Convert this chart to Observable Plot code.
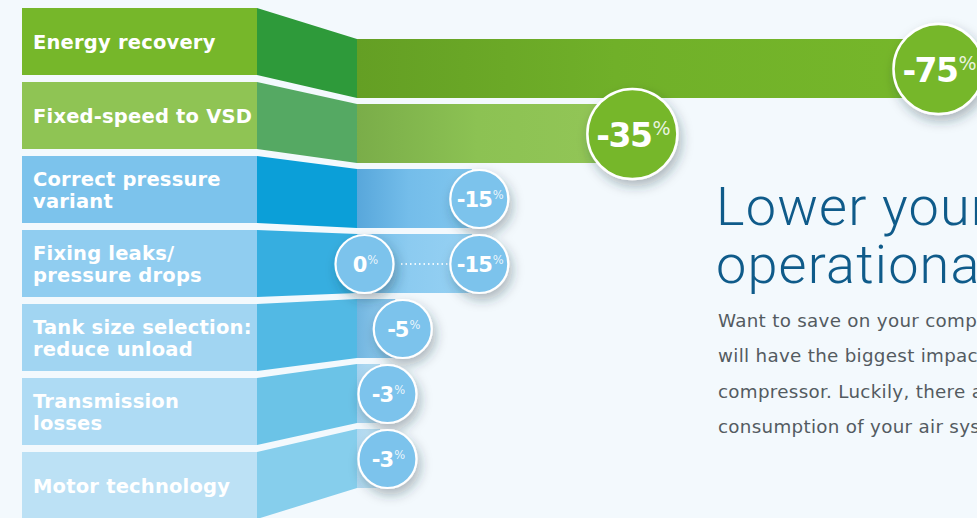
<!DOCTYPE html>
<html>
<head>
<meta charset="utf-8">
<script src="https://cdn.jsdelivr.net/npm/d3@7"></script>
<script src="https://cdn.jsdelivr.net/npm/@observablehq/plot@0.6"></script>
<style>
  html, body { margin: 0; padding: 0; background: #f3f9fd; width: 977px; height: 518px; overflow: hidden; }
  #chart { width: 977px; height: 518px; }
  #chart svg { display: block; }
</style>
</head>
<body>
<div id="chart"></div>
<script>
// ---- data ----
const categories = [
  "Energy recovery",
  "Fixed-speed to VSD",
  "Correct pressure\nvariant",
  "Fixing leaks/\npressure drops",
  "Tank size selection:\nreduce unload",
  "Transmission\nlosses",
  "Motor technology"
];
const savingFrom = [75, 35, 15, 0, 5, 3, 3];
const savingTo   = [75, 35, 15, 15, 5, 3, 3];

const headingLines = ["Lower your", "operational costs"];
const bodyLines = [
  "Want to save on your compressed air costs? Energy",
  "will have the biggest impact on the total cost of your",
  "compressor. Luckily, there are many ways to reduce the",
  "consumption of your air system."
];

// ---- styles ----
const boxColors       = ["#76b72a", "#8fc454", "#7cc3ec", "#90cdf0", "#a1d5f2", "#aedbf4", "#bce1f5"];
const connectorColors = ["#2e9a3a", "#55a963", "#0b9fd8", "#36aee0", "#52b9e4", "#6bc3e7", "#86ceec"];
const barGradients = [
  ["#649f24", "#70b029", "#76b72a"],
  ["#7aad49", "#8cc253", "#93c657"],
  ["#58a7db", "#74bdea", "#80c6ee"],
  ["#6fbbe7", "#8ccbf0", "#96d1f3"],
  ["#72b5df", "#82c1e8", "#8ac6ea"],
  ["#a3d1ee", "#acd8f1", "#b1daf2"],
  ["#b0d8f0", "#b8def3", "#bde0f4"]
];
const badgeColors = ["#76b72a", "#76b72a", "#7cc3ec", "#7cc3ec", "#7cc3ec", "#7cc3ec", "#7cc3ec"];

const rows = categories.map((c, i) => ({category: c, from: savingFrom[i], to: savingTo[i], i}));
const badges = rows.flatMap(r =>
  (r.from === r.to ? [r.to] : [r.from, r.to]).map(v => ({
    category: r.category, value: v, i: r.i, big: v >= 30,
    label: (v === 0 ? "0" : "-" + v) + "%"
  }))
);
const ranges = rows.filter(r => r.from !== r.to);

const badgeDx = 7;

const plot = Plot.plot({
  width: 977,
  height: 518,
  margin: 0,
  style: {background: "transparent", overflow: "hidden"},
  x: {domain: [0, 75], range: [357, 931], axis: null},
  y: {type: "band", domain: categories, range: [38, 489], paddingInner: 0.1, paddingOuter: 0, axis: null},
  color: {type: "identity"},
  marks: [
    ...rows.map(r => Plot.barX([r], {x1: () => 0, x2: "to", y: "category", fill: `url(#bar${r.i})`})),
    Plot.ruleY(ranges, {
      y: "category", x1: "from", x2: "to", dx: badgeDx,
      insetLeft: 37, insetRight: 29,
      stroke: "white", strokeWidth: 2, strokeOpacity: 0.85, strokeDasharray: "1.5 3"
    }),
    Plot.dot(badges.filter(b => b.big), {
      x: "value", y: "category", dx: badgeDx, r: 45,
      fill: d => badgeColors[d.i], stroke: "white", strokeWidth: 2.5
    }),
    Plot.dot(badges.filter(b => !b.big), {
      x: "value", y: "category", dx: badgeDx, r: 29,
      fill: d => badgeColors[d.i], stroke: "white", strokeWidth: 2.2
    }),
    Plot.text(badges.filter(b => b.big), {
      x: "value", y: "category", dx: badgeDx + 1, dy: 2, text: "label",
      fill: "white", fontSize: 33, fontWeight: "bold", fontFamily: "DejaVu Sans"
    }),
    Plot.text(badges.filter(b => !b.big), {
      x: "value", y: "category", dx: badgeDx + 1, dy: 1, text: "label",
      fill: "white", fontSize: 21, fontWeight: "bold", fontFamily: "DejaVu Sans"
    })
  ]
});

document.getElementById("chart").appendChild(plot);

const svg = d3.select(plot);
const xs = plot.scale("x");
const ys = plot.scale("y");

// defs: gradients + shadow
const defs = svg.insert("defs", ":first-child");
barGradients.forEach((g, i) => {
  const lg = defs.append("linearGradient").attr("id", `bar${i}`).attr("x1", 0).attr("x2", 1).attr("y1", 0).attr("y2", 0);
  lg.append("stop").attr("offset", "0%").attr("stop-color", g[0]);
  lg.append("stop").attr("offset", "45%").attr("stop-color", g[1]);
  lg.append("stop").attr("offset", "100%").attr("stop-color", g[2]);
});
const f = defs.append("filter").attr("id", "shadow").attr("x", "-50%").attr("y", "-50%").attr("width", "200%").attr("height", "200%");
f.append("feDropShadow").attr("dx", 3).attr("dy", 6).attr("stdDeviation", 6).attr("flood-color", "#1c3040").attr("flood-opacity", 0.33);

svg.selectAll('g[aria-label="dot"]').attr("filter", "url(#shadow)");

// split "%" into a smaller superscript tspan
svg.selectAll('g[aria-label="text"]').each(function () {
  const g = d3.select(this);
  const size = +(g.attr("font-size") || 21);
  const big = size > 25;
  g.selectAll("text").each(function () {
    const t = d3.select(this);
    const s = t.text();
    if (!s.endsWith("%")) return;
    t.text(null);
    t.append("tspan").text(s.slice(0, -1)).attr("letter-spacing", big ? -1.5 : -1);
    t.append("tspan").text("%").attr("font-size", big ? 19 : 11.5).attr("font-weight", "normal")
      .attr("fill-opacity", 0.85).attr("dy", big ? -12 : -7.5).attr("dx", 1);
  });
});

// left label column and connectors (behind everything)
const boxLeft = 22, boxRight = 257;
const connectorRight = xs.apply(0);
const yBox = d3.scaleBand().domain(categories).range([8, 519]).paddingInner(7 / 74).paddingOuter(0);
const left = svg.insert("g", "defs + *").attr("aria-label", "labels").attr("text-anchor", "start");
categories.forEach((c, i) => {
  const t = yBox(c), b = t + yBox.bandwidth();
  const bt = ys.apply(c), bb = bt + ys.bandwidth;
  left.append("rect").attr("x", boxLeft).attr("y", t).attr("width", boxRight - boxLeft).attr("height", yBox.bandwidth())
    .attr("fill", boxColors[i]);
  left.append("polygon")
    .attr("points", [[boxRight, t], [connectorRight, bt], [connectorRight, bb], [boxRight, b]].map(p => p.join(",")).join(" "))
    .attr("fill", connectorColors[i]);
  const lines = c.split("\n");
  const center = t + yBox.bandwidth() / 2;
  const lh = 22;
  const base = center + 7.5 - (lines.length - 1) * lh / 2;
  const tx = left.append("text").attr("x", 33).attr("fill", "white").attr("text-anchor", "start")
    .attr("font-family", "DejaVu Sans").attr("font-weight", "bold").attr("font-size", 19.5).attr("letter-spacing", 0.2);
  lines.forEach((l, k) => tx.append("tspan").attr("x", 33).attr("y", base + k * lh).text(l));
});

// heading and body text
const htext = svg.append("g").attr("aria-label", "heading").attr("text-anchor", "start");
headingLines.forEach((l, k) => {
  htext.append("text").attr("x", 716).attr("y", 225 + k * 58).text(l).attr("text-anchor", "start")
    .attr("font-family", "Roboto").attr("font-weight", 300).attr("font-size", 54).attr("letter-spacing", 1.2)
    .attr("fill", "#0f5b8a");
});
bodyLines.forEach((l, k) => {
  htext.append("text").attr("x", 718).attr("y", 327 + k * 35.3).text(l).attr("text-anchor", "start")
    .attr("font-family", "DejaVu Sans").attr("font-size", 18.3).attr("letter-spacing", 0.3).attr("fill", "#535b61");
});
</script>
</body>
</html>
